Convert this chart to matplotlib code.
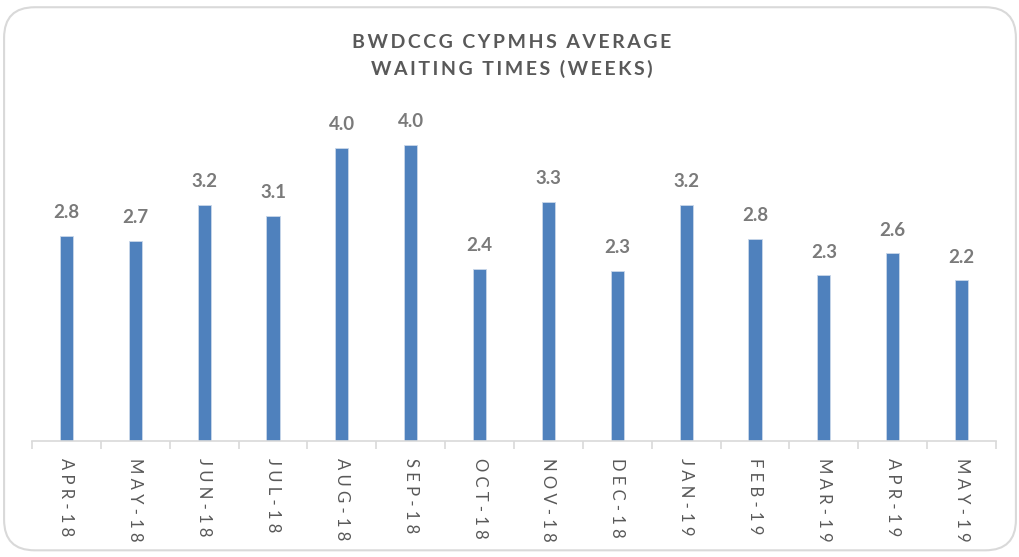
import matplotlib.pyplot as plt
from matplotlib.patches import FancyBboxPatch

months = ["APR-18", "MAY-18", "JUN-18", "JUL-18", "AUG-18", "SEP-18", "OCT-18",
          "NOV-18", "DEC-18", "JAN-19", "FEB-19", "MAR-19", "APR-19", "MAY-19"]
weeks = [2.80, 2.73, 3.22, 3.07, 4.00, 4.04, 2.35, 3.26, 2.32, 3.22, 2.76, 2.26, 2.56, 2.19]

plt.rcParams['font.family'] = ['Lato', 'DejaVu Sans']
grey = "#595959"

fig = plt.figure(figsize=(10.2, 5.57), dpi=100)

# rounded chart border
border = FancyBboxPatch((0.004, 0.012), 0.992, 0.975,
                        boxstyle="round,pad=0,rounding_size=0.03",
                        transform=fig.transFigure, facecolor="none",
                        edgecolor="#d9d9d9", linewidth=1.5,
                        mutation_aspect=1020 / 557, zorder=-1)
fig.patches.append(border)

ax = fig.add_axes([32 / 1020, 1 - 441 / 557, 964 / 1020, 341 / 557])
ax.patch.set_alpha(0)

x = range(len(months))
bars = ax.bar(x, weeks, width=0.19, color="#4F81BD", edgecolor="#c9d7ea", linewidth=0.6)

for b, v in zip(bars, weeks):
    ax.text(b.get_x() + b.get_width() / 2, v + 0.2, f"{v:.1f}",
            ha="center", va="bottom", fontsize=13.5, fontweight="bold", color="#7a7a7a")

ax.set_xlim(-0.5, len(months) - 0.5)
ax.set_ylim(0, 4.65)
ax.set_yticks([])
for s in ["top", "right", "left"]:
    ax.spines[s].set_visible(False)
ax.spines["bottom"].set_color("#d9d9d9")
ax.spines["bottom"].set_linewidth(1.2)

ax.set_xticks([i - 0.5 for i in range(len(months) + 1)], minor=False)
ax.set_xticklabels([])
ax.tick_params(axis="x", length=6, color="#d9d9d9", width=1.2)
ax.set_xticks(list(x), minor=True)
ax.set_xticklabels([" ".join(m) for m in months], minor=True,
                   rotation=270, fontsize=12, color=grey)
ax.tick_params(axis="x", which="minor", length=0, pad=12)

fig.text(0.502, 0.923, "\u2009".join("BWDCCG CYPMHS AVERAGE").replace("\u2009 \u2009", "  "),
         ha="center", va="center", fontsize=14, fontweight="bold", color=grey)
fig.text(0.502, 0.876, "\u2009".join("WAITING TIMES (WEEKS)").replace("\u2009 \u2009", "  "),
         ha="center", va="center", fontsize=14, fontweight="bold", color=grey)

fig.savefig("out.png", dpi=100)
